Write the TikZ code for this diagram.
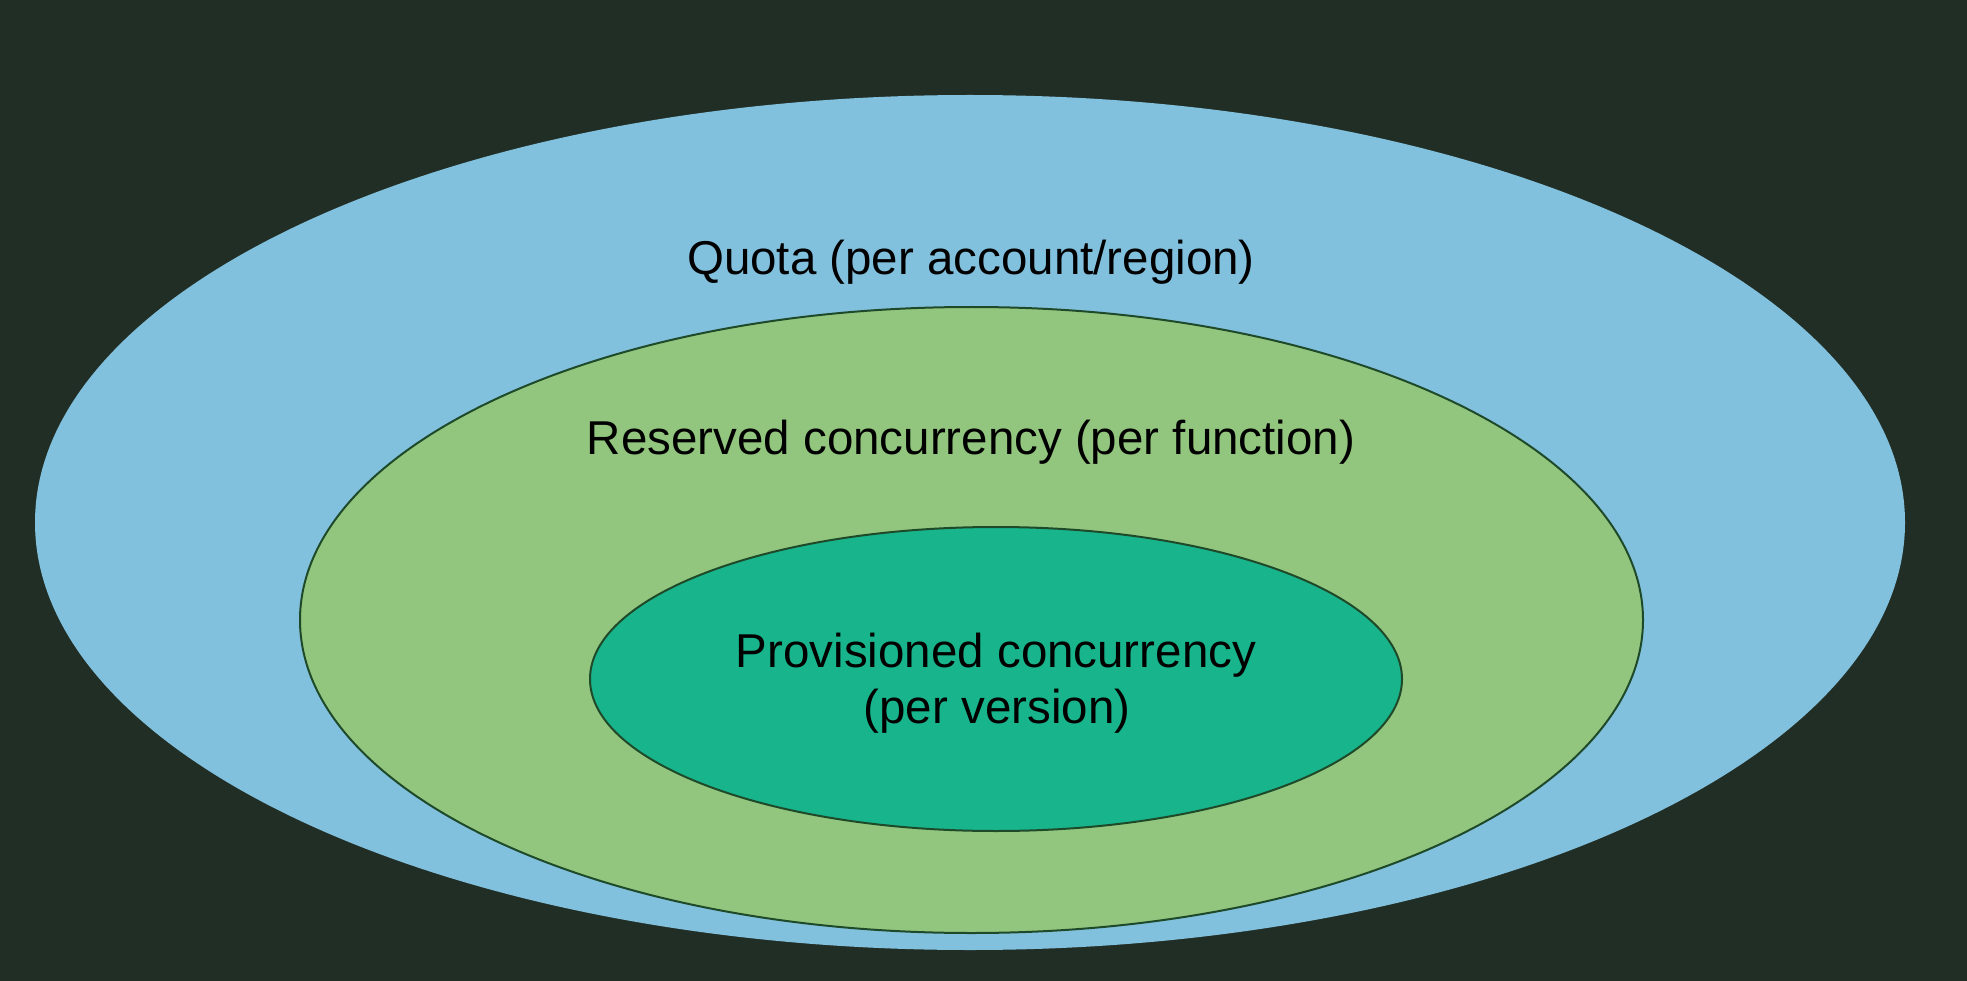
\documentclass[tikz,border=0pt]{standalone}
\usepackage{fontspec}
\setmainfont{Liberation Sans}
\definecolor{bgdark}{HTML}{212E25}
\definecolor{quotablue}{HTML}{82C1DE}
\definecolor{resgreen}{HTML}{92C67E}
\definecolor{provteal}{HTML}{18B48C}
\definecolor{rimline}{HTML}{1F4A2A}
\begin{document}
\begin{tikzpicture}[x=1pt,y=-1pt,
  lbl/.style={font=\fontsize{47.5}{56}\selectfont, text=black, inner sep=0pt, anchor=base}]
\fill[bgdark] (0,0) rectangle (1967,981);
\useasboundingbox (0,0) rectangle (1967,981);
% outer quota ellipse
\fill[quotablue] (970,522.5) ellipse [x radius=935, y radius=427.5];
% reserved ellipse
\filldraw[fill=resgreen, draw=rimline, line width=2pt] (971.5,620) ellipse [x radius=671.5, y radius=313];
% provisioned ellipse
\filldraw[fill=provteal, draw=rimline, line width=2pt] (996,679) ellipse [x radius=406, y radius=152];
% labels
\node[lbl] (quota) at (971,275) {Quota (per account/region)};
\node[lbl] (reserved) at (971,454) {Reserved concurrency (per function)};
\node[lbl] (prov1) at (996,667) {Provisioned concurrency};
\node[lbl] (prov2) at (997,723) {(per version)};
\end{tikzpicture}
\end{document}
